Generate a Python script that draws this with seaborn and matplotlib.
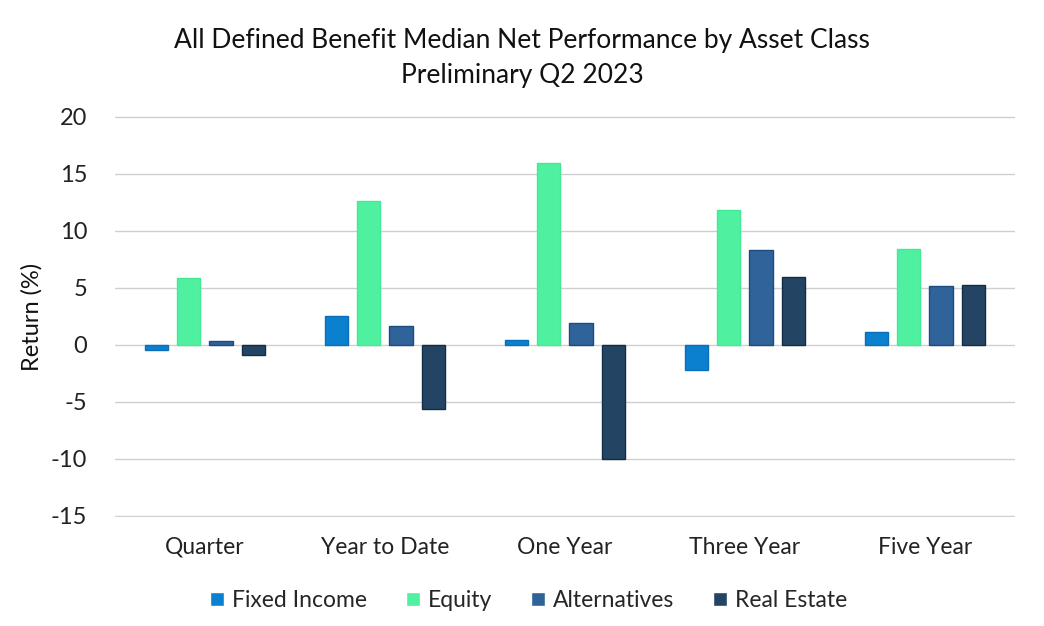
import matplotlib
matplotlib.use("Agg")
import matplotlib.pyplot as plt
import seaborn as sns
import pandas as pd

periods = ["Quarter", "Year to Date", "One Year", "Three Year", "Five Year"]
fixed_income = [-0.4, 2.5, 0.45, -2.2, 1.15]
equity = [5.9, 12.6, 16.0, 11.8, 8.4]
alternatives = [0.35, 1.7, 1.9, 8.3, 5.2]
real_estate = [-0.9, -5.6, -10.0, 6.0, 5.3]
series_names = ["Fixed Income", "Equity", "Alternatives", "Real Estate"]
colors = ["#0A80CF", "#4FF0A0", "#2F6399", "#234563"]
edge_colors = ["#0A6FB8", "#45E894", "#1E4C80", "#142D47"]
yticks = [-15, -10, -5, 0, 5, 10, 15, 20]

rows = []
for name, vals in zip(series_names, [fixed_income, equity, alternatives, real_estate]):
    for p, v in zip(periods, vals):
        rows.append({"Period": p, "Series": name, "Return": v})
df = pd.DataFrame(rows)

sns.set_theme(style="white")
plt.rcParams["font.family"] = ["Lato", "DejaVu Sans"]

fig = plt.figure(figsize=(10.44, 6.26), dpi=100)
ax = fig.add_axes([0.110, 0.174, 0.862, 0.641])

sns.barplot(data=df, x="Period", y="Return", hue="Series", order=periods,
            hue_order=series_names, palette=colors, width=0.72, gap=0.28,
            saturation=1, ax=ax, legend=True, zorder=3)

for i, cont in enumerate(ax.containers):
    for bar in cont:
        bar.set_edgecolor(edge_colors[i])
        bar.set_linewidth(1.0)

ax.set_ylim(-15.1, 20.1)
ax.set_yticks(yticks)
ax.set_yticklabels([str(t) for t in yticks], fontsize=17, color="#222222")
ax.tick_params(axis="x", labelsize=16.5, colors="#222222", length=0, pad=14)
ax.tick_params(axis="y", length=0, pad=20)
ax.grid(axis="y", color="#CFCFCF", linewidth=1.0, zorder=0)
ax.set_axisbelow(True)
for s in ax.spines.values():
    s.set_visible(False)
ax.set_xlabel("")
ax.set_ylabel("Return (%)", fontsize=17, color="#111111", labelpad=6)
ax.set_xlim(-0.5, 4.5)

ax.legend(loc="upper center", bbox_to_anchor=(0.46, -0.13), ncol=4, frameon=False,
          fontsize=16.5, handlelength=0.6, handleheight=0.6, handletextpad=0.35,
          columnspacing=1.7)

fig.text(0.5, 0.935, "All Defined Benefit Median Net Performance by Asset Class",
         ha="center", va="center", fontsize=19, color="#111111")
fig.text(0.5, 0.880, "Preliminary Q2 2023", ha="center", va="center",
         fontsize=19, color="#111111")

fig.savefig("out.png", dpi=100)
